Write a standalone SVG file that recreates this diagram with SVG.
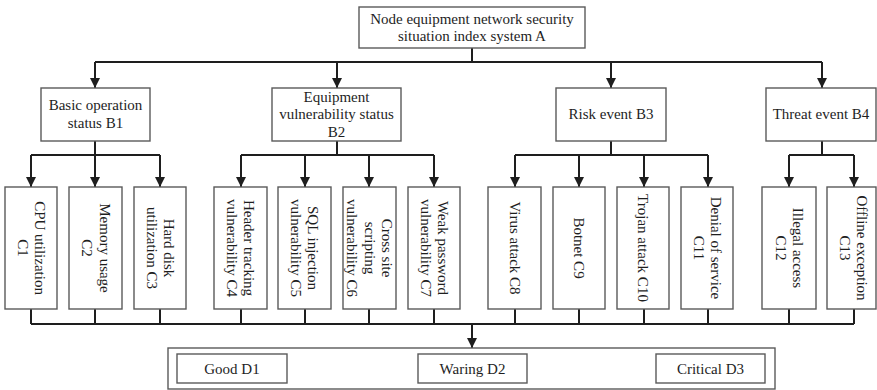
<svg xmlns="http://www.w3.org/2000/svg" width="877" height="390" viewBox="0 0 877 390">
  <style>
    .box { fill: #ffffff; stroke: #5a5a5a; stroke-width: 1.4; }
    .wire { fill: none; stroke: #1e1e1e; stroke-width: 2; }
    text { font-family: "Liberation Serif", "Times New Roman", serif; font-size: 15px; fill: #1e1e1e; text-anchor: middle; }
  </style>
  <defs>
    <marker id="arrow" markerUnits="userSpaceOnUse" markerWidth="10" markerHeight="10" refX="10" refY="5" orient="auto">
      <path d="M0,0 L10,5 L0,10 z" fill="#1e1e1e"/>
    </marker>
  </defs>

  <rect width="877" height="390" fill="#ffffff"/>

  <!-- connectors -->
  <g id="connectors" class="wire">
    <!-- A to B level -->
    <path d="M472,48 V62"/>
    <path d="M95,62 H822"/>
    <path d="M95,62 V88" marker-end="url(#arrow)"/>
    <path d="M337,62 V88" marker-end="url(#arrow)"/>
    <path d="M611,62 V88" marker-end="url(#arrow)"/>
    <path d="M822,62 V88" marker-end="url(#arrow)"/>
    <!-- B1 to C1..C3 -->
    <path d="M95,141 V155 M31,155 H160"/>
    <path d="M31,155 V187" marker-end="url(#arrow)"/>
    <path d="M95,155 V187" marker-end="url(#arrow)"/>
    <path d="M160,155 V187" marker-end="url(#arrow)"/>
    <!-- B2 to C4..C7 -->
    <path d="M337,141 V155 M241,155 H434"/>
    <path d="M241,155 V187" marker-end="url(#arrow)"/>
    <path d="M305,155 V187" marker-end="url(#arrow)"/>
    <path d="M369,155 V187" marker-end="url(#arrow)"/>
    <path d="M434,155 V187" marker-end="url(#arrow)"/>
    <!-- B3 to C8..C11 -->
    <path d="M611,141 V155 M515,155 H708"/>
    <path d="M515,155 V187" marker-end="url(#arrow)"/>
    <path d="M579,155 V187" marker-end="url(#arrow)"/>
    <path d="M644,155 V187" marker-end="url(#arrow)"/>
    <path d="M708,155 V187" marker-end="url(#arrow)"/>
    <!-- B4 to C12..C13 -->
    <path d="M822,141 V155 M789,155 H854"/>
    <path d="M789,155 V187" marker-end="url(#arrow)"/>
    <path d="M854,155 V187" marker-end="url(#arrow)"/>
    <!-- C level to D -->
    <path d="M31,309 V324 M95,309 V324 M160,309 V324 M241,309 V324 M305,309 V324 M369,309 V324 M434,309 V324 M515,309 V324 M579,309 V324 M644,309 V324 M708,309 V324 M789,309 V324 M854,309 V324"/>
    <path d="M31,324 H854"/>
    <path d="M472,324 V348" marker-end="url(#arrow)"/>
  </g>

  <!-- top level -->
  <g id="A">
    <rect class="box" x="359" y="7" width="226" height="41"/>
    <text x="472" y="24">Node equipment network security</text>
    <text x="472" y="41">situation index system A</text>
  </g>

  <!-- second level -->
  <g id="B1">
    <rect class="box" x="41" y="88" width="109" height="53"/>
    <text x="95.5" y="110">Basic operation</text>
    <text x="95.5" y="128">status B1</text>
  </g>
  <g id="B2">
    <rect class="box" x="272" y="88" width="129" height="53"/>
    <text x="336.5" y="102">Equipment</text>
    <text x="336.5" y="119">vulnerability status</text>
    <text x="336.5" y="137">B2</text>
  </g>
  <g id="B3">
    <rect class="box" x="556" y="88" width="110" height="53"/>
    <text x="611" y="119">Risk event B3</text>
  </g>
  <g id="B4">
    <rect class="box" x="766" y="88" width="110" height="53"/>
    <text x="821" y="119">Threat event B4</text>
  </g>

  <!-- third level (labels read top to bottom) -->
  <g id="C1">
    <rect class="box" x="5" y="187" width="52" height="122"/>
    <g transform="translate(31,248) rotate(90)">
      <text x="0" y="-3.5">CPU utilization</text>
      <text x="0" y="13.5">C1</text>
    </g>
  </g>
  <g id="C2">
    <rect class="box" x="69" y="187" width="53" height="122"/>
    <g transform="translate(95.5,248) rotate(90)">
      <text x="0" y="-4">Memory usage</text>
      <text x="0" y="13.5">C2</text>
    </g>
  </g>
  <g id="C3">
    <rect class="box" x="134" y="187" width="52" height="122"/>
    <g transform="translate(160,248) rotate(90)">
      <text x="0" y="-3.5">Hard disk</text>
      <text x="0" y="13.5">utilization C3</text>
    </g>
  </g>
  <g id="C4">
    <rect class="box" x="214" y="187" width="53" height="122"/>
    <g transform="translate(240.5,248) rotate(90)">
      <text x="0" y="-3.5">Header tracking</text>
      <text x="0" y="13.5">vulnerability C4</text>
    </g>
  </g>
  <g id="C5">
    <rect class="box" x="278" y="187" width="53" height="122"/>
    <g transform="translate(304.5,248) rotate(90)">
      <text x="0" y="-3.5">SQL injection</text>
      <text x="0" y="13.5">vulnerability C5</text>
    </g>
  </g>
  <g id="C6">
    <rect class="box" x="343" y="187" width="53" height="122"/>
    <g transform="translate(369.5,248) rotate(90)">
      <text x="0" y="-12.5">Cross site</text>
      <text x="0" y="5">scripting</text>
      <text x="0" y="22.5">vulnerability C6</text>
    </g>
  </g>
  <g id="C7">
    <rect class="box" x="408" y="187" width="52" height="122"/>
    <g transform="translate(434,248) rotate(90)">
      <text x="0" y="-3.5">Weak password</text>
      <text x="0" y="13.5">vulnerability C7</text>
    </g>
  </g>
  <g id="C8">
    <rect class="box" x="488" y="187" width="53" height="122"/>
    <g transform="translate(514.5,248) rotate(90)">
      <text x="0" y="5">Virus attack C8</text>
    </g>
  </g>
  <g id="C9">
    <rect class="box" x="553" y="187" width="52" height="122"/>
    <g transform="translate(579,248) rotate(90)">
      <text x="0" y="5">Botnet C9</text>
    </g>
  </g>
  <g id="C10">
    <rect class="box" x="617" y="187" width="52" height="122"/>
    <g transform="translate(643,248) rotate(90)">
      <text x="0" y="5">Trojan attack C10</text>
    </g>
  </g>
  <g id="C11">
    <rect class="box" x="681" y="187" width="52" height="122"/>
    <g transform="translate(707,248) rotate(90)">
      <text x="0" y="-3.5">Denial of service</text>
      <text x="0" y="13.5">C11</text>
    </g>
  </g>
  <g id="C12">
    <rect class="box" x="762" y="187" width="54" height="122"/>
    <g transform="translate(789,248) rotate(90)">
      <text x="0" y="-3.5">Illegal access</text>
      <text x="0" y="13.5">C12</text>
    </g>
  </g>
  <g id="C13">
    <rect class="box" x="827" y="187" width="49" height="122"/>
    <g transform="translate(853,248) rotate(90)">
      <text x="0" y="-3.5">Offline exception</text>
      <text x="0" y="13.5">C13</text>
    </g>
  </g>

  <!-- result grades -->
  <g id="D">
    <rect class="box" x="168" y="348" width="607" height="41"/>
  </g>
  <g id="D1">
    <rect class="box" x="177" y="354" width="110" height="29"/>
    <text x="232" y="374">Good D1</text>
  </g>
  <g id="D2">
    <rect class="box" x="418" y="354" width="109" height="29"/>
    <text x="472.5" y="374">Waring D2</text>
  </g>
  <g id="D3">
    <rect class="box" x="656" y="354" width="109" height="29"/>
    <text x="710.5" y="374">Critical D3</text>
  </g>
</svg>
